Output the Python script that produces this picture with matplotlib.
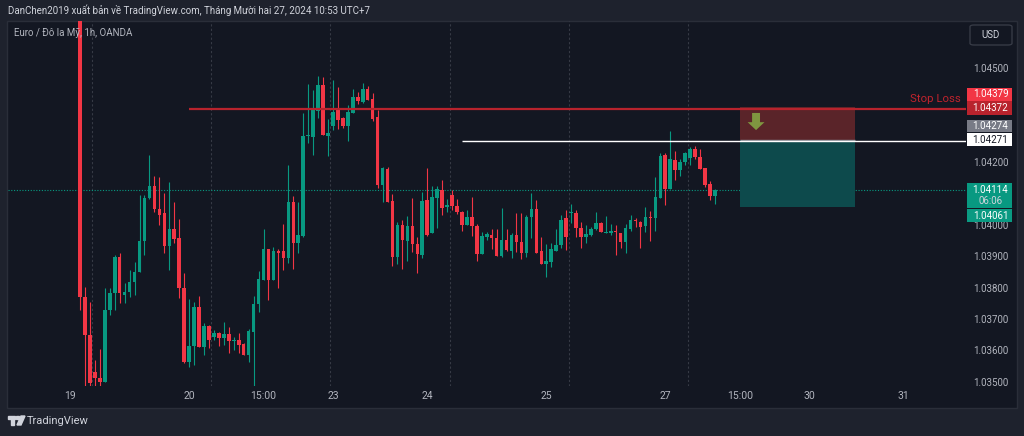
import numpy as np
import matplotlib.pyplot as plt
from matplotlib.patches import Rectangle, Polygon, FancyBboxPatch

plt.rcParams['font.family'] = ['Roboto', 'DejaVu Sans']

# EUR/USD 1h candles, OANDA, from 19 Dec 02:00 (UTC+7)
opens = [1.04880, 1.03774, 1.03652, 1.03535, 1.03514, 1.03503, 1.03731, 1.03785, 1.03901, 1.03779,
         1.03790, 1.03822, 1.03853, 1.03951, 1.04087, 1.04127, 1.04052, 1.04039, 1.03936, 1.03989,
         1.03960, 1.03802, 1.03565, 1.03618, 1.03742, 1.03615, 1.03681, 1.03646, 1.03657, 1.03643,
         1.03654, 1.03633, 1.03636, 1.03622, 1.03588, 1.03663, 1.03750, 1.03827, 1.03925, 1.03827,
         1.03920, 1.03919, 1.03896, 1.04074, 1.03944, 1.03968, 1.04286, 1.04283, 1.04366, 1.04448,
         1.04286, 1.04317, 1.04368, 1.04342, 1.04319, 1.04360, 1.04409, 1.04395, 1.04435, 1.04403,
         1.04345, 1.04130, 1.04181, 1.04080, 1.03899, 1.04002, 1.03952, 1.04000, 1.03942, 1.03907,
         1.04082, 1.03976, 1.04087, 1.04114, 1.04061, 1.04098, 1.04064, 1.04045, 1.04003, 1.04029,
         1.04000, 1.03909, 1.03965, 1.03970, 1.03962, 1.03905, 1.03954, 1.03919, 1.03970, 1.03949,
         1.03912, 1.04027, 1.04052, 1.03919, 1.03877, 1.03885, 1.03919, 1.03938, 1.04023, 1.04041,
         1.04039, 1.03992, 1.03963, 1.03970, 1.03988, 1.04010, 1.03978, 1.03976, 1.03981, 1.03976,
         1.03947, 1.03989, 1.04018, 1.04013, 1.03999, 1.04027, 1.04023, 1.04087, 1.04225, 1.04117,
         1.04209, 1.04177, 1.04202, 1.04217, 1.04243, 1.04218, 1.04183, 1.04133, 1.04095]
highs = [1.04900, 1.03806, 1.03758, 1.03572, 1.03606, 1.03801, 1.03801, 1.03907, 1.03912, 1.03816,
         1.03859, 1.03885, 1.04098, 1.04098, 1.04225, 1.04158, 1.04156, 1.04105, 1.04140, 1.04074,
         1.04021, 1.03848, 1.03766, 1.03758, 1.03776, 1.03691, 1.03683, 1.03668, 1.03660, 1.03694,
         1.03678, 1.03646, 1.03657, 1.03626, 1.03670, 1.03777, 1.03856, 1.03988, 1.03925, 1.03933,
         1.03925, 1.04005, 1.04193, 1.04094, 1.04076, 1.04358, 1.04451, 1.04432, 1.04477, 1.04475,
         1.04339, 1.04464, 1.04441, 1.04347, 1.04384, 1.04434, 1.04427, 1.04456, 1.04445, 1.04424,
         1.04368, 1.04186, 1.04186, 1.04101, 1.04013, 1.04018, 1.04031, 1.04087, 1.03965, 1.04108,
         1.04183, 1.04126, 1.04126, 1.04146, 1.04084, 1.04114, 1.04084, 1.04048, 1.04050, 1.04090,
         1.04007, 1.03981, 1.03981, 1.03988, 1.03988, 1.04057, 1.03989, 1.03976, 1.04039, 1.04039,
         1.04034, 1.04103, 1.04082, 1.03963, 1.03942, 1.03944, 1.03989, 1.04034, 1.04050, 1.04069,
         1.04050, 1.04013, 1.04002, 1.03997, 1.04043, 1.04013, 1.04031, 1.04004, 1.04002, 1.03978,
         1.04005, 1.04034, 1.04023, 1.04016, 1.04061, 1.04047, 1.04154, 1.04230, 1.04230, 1.04302,
         1.04238, 1.04214, 1.04236, 1.04250, 1.04254, 1.04243, 1.04185, 1.04143, 1.04117]
lows = [1.03731, 1.03460, 1.03430, 1.03470, 1.03480, 1.03503, 1.03716, 1.03731, 1.03753, 1.03753,
        1.03774, 1.03779, 1.03852, 1.03907, 1.04084, 1.04045, 1.04002, 1.03912, 1.03859, 1.03944,
        1.03769, 1.03562, 1.03549, 1.03556, 1.03615, 1.03588, 1.03610, 1.03636, 1.03617, 1.03620,
        1.03594, 1.03604, 1.03594, 1.03588, 1.03567, 1.03470, 1.03726, 1.03827, 1.03763, 1.03827,
        1.03801, 1.03859, 1.03880, 1.03861, 1.03912, 1.03963, 1.04262, 1.04225, 1.04342, 1.04289,
        1.04222, 1.04305, 1.04307, 1.04310, 1.04271, 1.04360, 1.04388, 1.04392, 1.04400, 1.04334,
        1.04119, 1.04076, 1.04076, 1.03872, 1.03878, 1.03861, 1.03889, 1.03917, 1.03848, 1.03896,
        1.03967, 1.03976, 1.03992, 1.04034, 1.04045, 1.04050, 1.04037, 1.03984, 1.04003, 1.03967,
        1.03889, 1.03909, 1.03954, 1.03925, 1.03905, 1.03901, 1.03919, 1.03896, 1.03917, 1.03894,
        1.03899, 1.03960, 1.03914, 1.03877, 1.03838, 1.03869, 1.03919, 1.03930, 1.03923, 1.04008,
        1.03965, 1.03930, 1.03946, 1.03967, 1.03986, 1.03981, 1.03976, 1.03970, 1.03907, 1.03930,
        1.03914, 1.03984, 1.03997, 1.03930, 1.03981, 1.03952, 1.03983, 1.04087, 1.04066, 1.04117,
        1.04146, 1.04159, 1.04193, 1.04193, 1.04211, 1.04180, 1.04124, 1.04082, 1.04069]
closes = [1.03773, 1.03652, 1.03498, 1.03514, 1.03503, 1.03731, 1.03785, 1.03901, 1.03785, 1.03790,
          1.03822, 1.03853, 1.03951, 1.04087, 1.04127, 1.04052, 1.04034, 1.03936, 1.03989, 1.03958,
          1.03802, 1.03567, 1.03618, 1.03742, 1.03615, 1.03681, 1.03636, 1.03657, 1.03643, 1.03654,
          1.03634, 1.03636, 1.03620, 1.03588, 1.03665, 1.03750, 1.03830, 1.03925, 1.03827, 1.03920,
          1.03914, 1.03896, 1.04076, 1.03944, 1.03970, 1.04286, 1.04289, 1.04368, 1.04448, 1.04289,
          1.04296, 1.04363, 1.04337, 1.04319, 1.04363, 1.04409, 1.04398, 1.04434, 1.04400, 1.04339,
          1.04130, 1.04183, 1.04076, 1.03899, 1.04002, 1.03954, 1.04000, 1.03941, 1.03909, 1.04080,
          1.03970, 1.04090, 1.04116, 1.04057, 1.04066, 1.04064, 1.04045, 1.04003, 1.04029, 1.03999,
          1.03909, 1.03967, 1.03974, 1.03960, 1.03905, 1.03954, 1.03923, 1.03970, 1.03947, 1.03912,
          1.04029, 1.04052, 1.03914, 1.03877, 1.03889, 1.03925, 1.03937, 1.04018, 1.03965, 1.04044,
          1.03992, 1.03965, 1.03974, 1.03988, 1.04010, 1.03981, 1.03980, 1.03984, 1.03979, 1.03949,
          1.03992, 1.04018, 1.04015, 1.03997, 1.04027, 1.04026, 1.04090, 1.04222, 1.04117, 1.04211,
          1.04177, 1.04202, 1.04230, 1.04243, 1.04218, 1.04181, 1.04130, 1.04095, 1.04114]

# time axis (bar index, weekends skipped)
tick_pos = [-2, 22, 37, 51, 70, 94, 118, 133, 147, 166]
tick_labels = ['19', '20', '15:00', '23', '24', '25', '27', '15:00', '30', '31']
grid_pos = [2.5, 26.5, 50.5, 74.5, 98.5, 122.5]

price_ticks = [1.045, 1.042, 1.040, 1.039, 1.038, 1.037, 1.036, 1.035]

stop_line = 1.04372
stop_line_start = 22
white_line = 1.04271
white_line_start = 77

# short position tool
pos_start, pos_end = 133, 156.3
pos_entry, pos_stop, pos_target = 1.04274, 1.04379, 1.04061

BG_OUT = '#1e222d'
BG = '#131722'
UP = '#089981'
DOWN = '#f23645'
TXT = '#b2b5be'

fig = plt.figure(figsize=(10.24, 4.36), dpi=100)
fig.patch.set_facecolor(BG_OUT)
W, H = 1024, 436

# chart pane
fig.patches.append(Rectangle((7 / W, 1 - 408 / H), 1010 / W, 387 / H, transform=fig.transFigure,
                             facecolor=BG, edgecolor='#2a2e39', lw=1, zorder=-5))

ax = fig.add_axes([8 / W, 1 - 386 / H, 958 / W, 365 / H])
ax.set_facecolor(BG)
ax.patch.set_alpha(0)
for s in ax.spines.values():
    s.set_visible(False)
ymin, ymax = 1.034895, 1.046519
ax.set_ylim(ymin, ymax)
ax.set_xlim(-14.52, 178.63)
px = (ymax - ymin) / 365

for g in grid_pos:
    ax.axvline(g, color='#363a45', lw=0.8, ls=(0, (2, 2)), zorder=1)

x = np.arange(len(opens))
o = np.array(opens)
c = np.array(closes)
cols = [UP if cc >= oo else DOWN for oo, cc in zip(o, c)]
ax.vlines(x, lows, highs, colors=cols, lw=0.8, zorder=3)
body = np.maximum(np.abs(c - o), px * 0.9)
ax.bar(x, body, bottom=np.minimum(o, c), width=0.72, color=cols, zorder=4)

# current price line
ax.axhline(closes[-1], color=UP, lw=0.8, ls=(0, (1, 1.5)), zorder=2)

# horizontal lines
ax.hlines(stop_line, stop_line_start, 180, color='#b8232d', lw=1.6, zorder=5)
ax.hlines(white_line, white_line_start, 180, color='#ffffff', lw=1.0, zorder=5)
ax.text(0.995, stop_line + 9.5 * px, 'Stop Loss', transform=ax.get_yaxis_transform(),
        ha='right', va='center', color='#c0232d', fontsize=8.2)

# short position
ax.add_patch(Rectangle((pos_start, pos_entry), pos_end - pos_start, pos_stop - pos_entry,
                       facecolor='#5a2429', edgecolor='none', zorder=2))
ax.add_patch(Rectangle((pos_start, pos_target), pos_end - pos_start, pos_entry - pos_target,
                       facecolor='#0d4a4c', edgecolor='none', zorder=2))
ax.hlines(pos_entry, pos_start, pos_end, color='#8a8d96', lw=1.0, zorder=3)
span = pos_stop - pos_entry
ac = pos_start + 3.3
ay0, ay1, ay2 = pos_stop - 0.19 * span, pos_stop - 0.47 * span, pos_stop - 0.71 * span
ax.add_patch(Polygon([(ac - 0.8, ay0), (ac + 0.8, ay0), (ac + 0.8, ay1), (ac + 1.7, ay1),
                      (ac, ay2), (ac - 1.7, ay1), (ac - 0.8, ay1)],
                     closed=True, facecolor='#7f9640', edgecolor='none', zorder=4))

ax.set_yticks([])
ax.set_xticks(tick_pos, tick_labels)
ax.tick_params(axis='x', length=0, pad=3.5, labelsize=7.5, labelcolor=TXT)

# price scale
ax2 = fig.add_axes([966 / W, 1 - 386 / H, 50 / W, 365 / H], sharey=ax)
ax2.set_xlim(0, 1)
ax2.axis('off')
for p in price_ticks:
    ax2.text(0.49, p, f'{p:.5f}', ha='center', va='center', color=TXT, fontsize=7)

tags = [(1.04379, 12.2, DOWN, 'white', 13),
        (1.04372, 1.0, '#b8232d', 'white', 14),
        (1.04274, 13.5, '#787b86', 'white', 12.5),
        (1.04271, 1.0, '#ffffff', '#131722', 12.5)]
for val, shift, fc, tc, h in tags:
    yc = val + shift * px
    ax2.add_patch(Rectangle((0.02, yc - h / 2 * px), 0.9, h * px, facecolor=fc, edgecolor='none', zorder=3))
    ax2.text(0.49, yc, f'{val:.5f}', ha='center', va='center', color=tc, fontsize=7, zorder=4)
last = closes[-1]
ax2.add_patch(Rectangle((0.02, last - 18 * px), 0.9, 25 * px, facecolor=UP, edgecolor='none', zorder=3))
ax2.text(0.49, last - 0.5 * px, f'{last:.5f}', ha='center', va='center', color='white', fontsize=7, zorder=4)
ax2.text(0.49, last - 11.5 * px, '06:06', ha='center', va='center', color='#d1d4dc', fontsize=7, zorder=4)
# target tag sits under the countdown box
ax2.add_patch(Rectangle((0.02, pos_target - 15.5 * px), 0.9, 13 * px, facecolor='#0a9a82', edgecolor='none', zorder=5))
ax2.text(0.49, pos_target - 9 * px, f'{pos_target:.5f}', ha='center', va='center', color='white', fontsize=7, zorder=6)

# USD button
fig.patches.append(FancyBboxPatch((970 / W, 1 - 45 / H), 42 / W, 20 / H, transform=fig.transFigure,
                                  boxstyle='round,pad=0,rounding_size=0.004', facecolor=BG,
                                  edgecolor='#363a45', lw=1))
fig.text(991 / W, 1 - 35.5 / H, 'USD', ha='center', va='center', color='#d1d4dc', fontsize=7)

# header, title, footer
fig.text(8 / W, 1 - 10 / H, 'DanChen2019 xuất bản về TradingView.com, Tháng Mười hai 27, 2024 10:53 UTC+7',
         ha='left', va='center', color='#d1d4dc', fontsize=7)
fig.text(14 / W, 1 - 33 / H, 'Euro / Đô la Mỹ, 1h, OANDA', ha='left', va='center', color=TXT, fontsize=7)

fig.patches.append(Rectangle((8 / W, 1 - 419 / H), 7 / W, 3 / H, transform=fig.transFigure, color='#d1d4dc'))
fig.patches.append(Rectangle((11 / W, 1 - 425 / H), 3 / W, 7 / H, transform=fig.transFigure, color='#d1d4dc'))
fig.patches.append(Polygon([(16 / W, 1 - 416 / H), (19 / W, 1 - 416 / H), (19 / W, 1 - 419 / H), (16 / W, 1 - 419 / H)],
                           closed=True, transform=fig.transFigure, color='#d1d4dc'))
fig.patches.append(Polygon([(21 / W, 1 - 416 / H), (25 / W, 1 - 416 / H), (21 / W, 1 - 425 / H), (17 / W, 1 - 425 / H)],
                           closed=True, transform=fig.transFigure, color='#d1d4dc'))
fig.text(27 / W, 1 - 421 / H, 'TradingView', ha='left', va='center', color='#d1d4dc', fontsize=8)

fig.savefig('out.png', dpi=100, facecolor=fig.get_facecolor())
